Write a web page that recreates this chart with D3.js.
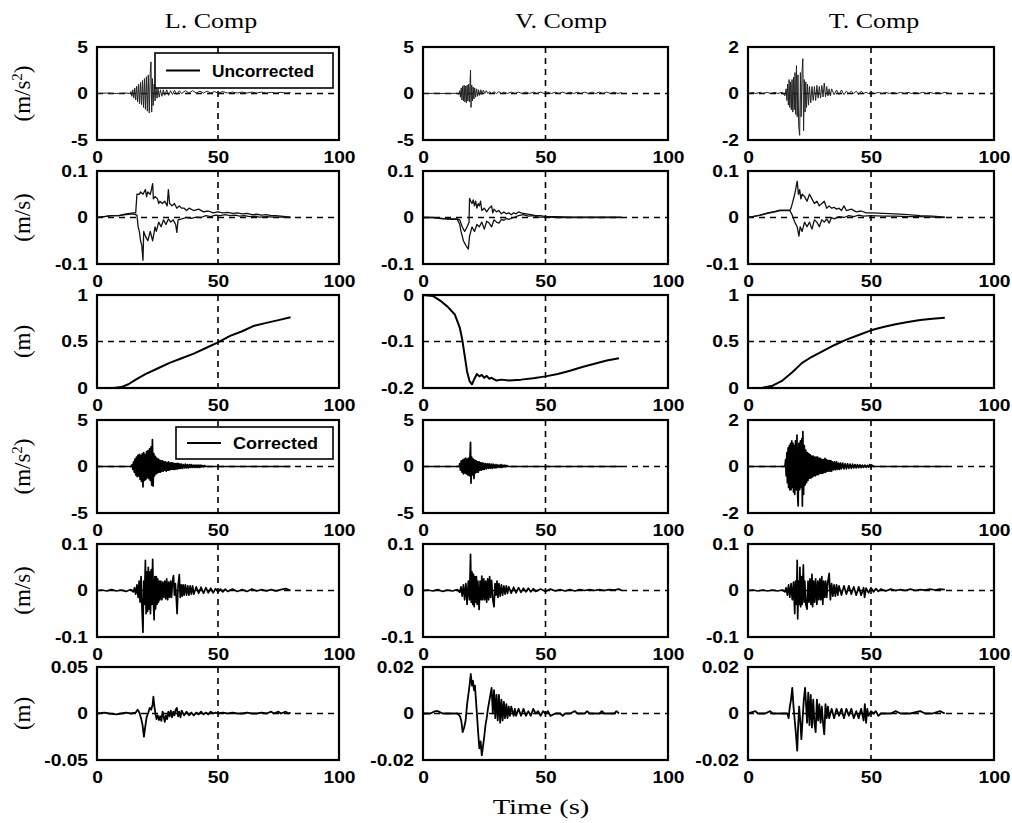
<!DOCTYPE html>
<html><head><meta charset="utf-8">
<script src="https://cdn.jsdelivr.net/npm/d3@7"></script>
<style>body{margin:0;background:#fff}svg{display:block}</style>
</head><body>
<script>
// ---------------- DATA ----------------
const componentTitles = ["L. Comp", "V. Comp", "T. Comp"];
const rowUnits = ["m/s2", "m/s", "m", "m/s2", "m/s", "m"];
const xTickValues = [0, 50, 100];
const xTickLabels = ["0", "50", "100"];
const xAxisLabel = "Time (s)";
const legendLabels = ["Uncorrected", "Corrected"];

// y domains [min,max] per row / column
const yDomains = [
  [[-5, 5], [-5, 5], [-2, 2]],
  [[-0.1, 0.1], [-0.1, 0.1], [-0.1, 0.1]],
  [[0, 1], [-0.2, 0], [0, 1]],
  [[-5, 5], [-5, 5], [-2, 2]],
  [[-0.1, 0.1], [-0.1, 0.1], [-0.1, 0.1]],
  [[-0.05, 0.05], [-0.02, 0.02], [-0.02, 0.02]]
];
// y tick labels (top, middle, bottom)
const yTickLabels = [
  [["5", "0", "-5"], ["5", "0", "-5"], ["2", "0", "-2"]],
  [["0.1", "0", "-0.1"], ["0.1", "0", "-0.1"], ["0.1", "0", "-0.1"]],
  [["1", "0.5", "0"], ["0", "-0.1", "-0.2"], ["1", "0.5", "0"]],
  [["5", "0", "-5"], ["5", "0", "-5"], ["2", "0", "-2"]],
  [["0.1", "0", "-0.1"], ["0.1", "0", "-0.1"], ["0.1", "0", "-0.1"]],
  [["0.05", "0", "-0.05"], ["0.02", "0", "-0.02"], ["0.02", "0", "-0.02"]]
];

// ---- Uncorrected acceleration ----
const accL_unc = [[0,0],[4,0.05],[8,0],[12,0.05],[13.5,0],[14,0.2],[14.4,-0.3],[14.8,0.4],[15.2,-0.5],[15.6,0.6],[16,-0.7],[16.4,0.8],[16.8,-0.9],[17.2,1.0],[17.6,-1.1],[18,1.2],[18.4,-1.2],[18.8,1.4],[19.2,-1.5],[19.6,1.6],[20,-1.7],[20.4,1.8],[20.8,-1.9],[21.2,2.0],[21.6,-2.1],[22,2.2],[22.3,3.4],[22.6,-2.0],[22.9,1.6],[23.2,-1.3],[23.6,1.0],[24,-0.8],[24.4,0.7],[24.8,-0.5],[25.2,0.5],[25.7,-0.4],[26.2,0.4],[26.8,-0.3],[27.4,0.4],[28,-0.2],[28.8,0.4],[29.6,-0.2],[30.4,0.3],[31.2,-0.1],[32,0.35],[33,-0.1],[34,0.3],[35,0],[36.5,0.3],[38,0.05],[39.5,0.3],[41,0.05],[42.5,0.25],[44,0.05],[45.5,0.25],[47,0.05],[48.5,0.2],[50,0.05],[52,0.2],[54,0.05],[56,0.15],[58,0.05],[60,0.15],[62,0.05],[64,0.15],[66,0.05],[68,0.15],[70,0.05],[72,0.12],[74,0.05],[76,0.12],[78,0.05],[80,0.1]];
const accV_unc = [[0,0],[5,0.02],[10,0],[14,0.02],[14.5,-0.1],[15,0.3],[15.3,-0.4],[15.6,0.6],[15.9,-0.7],[16.2,0.8],[16.5,-0.8],[16.8,0.9],[17.1,-0.9],[17.4,0.8],[17.7,-1.0],[18,0.9],[18.3,-0.8],[18.6,1.0],[18.9,-0.9],[19.2,1.2],[19.4,2.5],[19.6,-1.5],[19.9,0.9],[20.2,-0.8],[20.5,0.7],[20.8,-0.6],[21.1,0.6],[21.5,-0.4],[21.9,0.5],[22.3,-0.3],[22.7,0.4],[23.1,-0.2],[23.6,0.4],[24.1,-0.1],[24.6,0.35],[25.2,0],[25.8,0.3],[26.5,0],[27.2,0.2],[28,0],[29,0.2],[30,0],[31,0.2],[32,0],[33,0.15],[34.5,0],[36,0.15],[37.5,0],[39,0.15],[40.5,0],[42,0.15],[43.5,0],[45,0.15],[46.5,0],[48,0.15],[49.5,0],[51,0.15],[52.5,0],[54,0.15],[55.5,0],[57,0.15],[58.5,0],[60,0.15],[61.5,0],[63,0.15],[64.5,0],[66,0.15],[67.5,0],[69,0.15],[70.5,0],[72,0.15],[73.5,0],[75,0.15],[76.5,0],[78,0.15],[79.5,0],[81,0.1]];
const accT_unc = [[0,0],[2,0.05],[3,0],[5,0.05],[6,0],[8,0.05],[9,0],[11,0.05],[12,0],[14,0.05],[15,-0.1],[15.5,0.2],[15.8,-0.3],[16.1,0.4],[16.4,-0.5],[16.7,0.6],[17,-0.6],[17.3,0.5],[17.6,-0.7],[17.9,0.6],[18.2,-0.8],[18.5,0.7],[18.8,-0.7],[19.1,0.9],[19.4,-0.9],[19.7,1.2],[20,-1.0],[20.3,0.8],[20.6,-1.4],[21,-1.8],[21.3,0.9],[21.6,-1.0],[22,1.0],[22.3,1.5],[22.6,-1.6],[22.9,0.6],[23.2,-0.8],[23.5,0.5],[23.8,-0.6],[24.2,0.4],[24.6,-0.5],[25,0.3],[25.5,-0.4],[26,0.3],[26.5,-0.3],[27,0.3],[27.5,-0.3],[28,0.35],[28.5,-0.2],[29,0.3],[29.5,-0.2],[30,0.35],[30.5,-0.15],[31,0.45],[31.5,-0.15],[32,0.3],[32.5,-0.1],[33,0.2],[33.5,-0.1],[34,0.2],[35,-0.05],[36,0.15],[37,-0.05],[38,0.15],[39,-0.05],[40,0.1],[41,0],[42,0.1],[43,0],[44,0.1],[45,-0.05],[46,0.1],[47,0],[48,0.05],[49,0],[50,0.05],[51.5,0],[53,0.05],[54.5,0],[56,0.05],[57.5,0],[59,0.05],[60.5,0],[62,0.05],[63.5,0],[65,0.05],[66.5,0],[68,0.05],[69.5,0],[71,0.05],[72.5,0],[74,0.05],[75.5,0],[77,0.05],[78.5,0],[80,0.05],[82,0]];

// ---- Uncorrected velocity (upper / lower traces) ----
const velL_uncA = [[0,0],[3,0.002],[6,0.004],[9,0.004],[12,0.008],[15,0.01],[16,0.01],[16.5,0.05],[17.5,0.05],[18,0.055],[19,0.05],[20,0.06],[20.5,0.045],[21,0.055],[22,0.05],[22.5,0.06],[23,0.073],[23.3,0.04],[24,0.045],[25,0.04],[25.5,0.03],[26,0.035],[27,0.03],[28,0.035],[29,0.025],[29.5,0.06],[30,0.03],[31,0.025],[32,0.03],[33,0.02],[34,0.025],[35,0.02],[36,0.02],[37,0.015],[38,0.02],[40,0.015],[42,0.018],[44,0.012],[46,0.014],[48,0.01],[50,0.012],[52,0.01],[54,0.011],[56,0.009],[58,0.01],[60,0.008],[62,0.009],[64,0.006],[66,0.007],[68,0.005],[70,0.006],[72,0.004],[74,0.004],[76,0.003],[78,0.002],[80,0.001]];
const velL_uncB = [[0,0],[3,0.002],[6,0.004],[9,0.004],[12,0.006],[15,0.008],[16.5,0.005],[17,-0.02],[17.5,-0.03],[18,-0.05],[18.5,-0.06],[19,-0.092],[19.3,-0.03],[20,-0.04],[21,-0.05],[22,-0.03],[23,-0.05],[24,-0.02],[24.5,-0.03],[25.5,-0.01],[26.5,-0.02],[27.5,-0.005],[28.5,-0.015],[29.5,-0.003],[30.5,-0.01],[31.5,-0.005],[32.5,-0.015],[33,-0.032],[33.5,-0.005],[35,-0.003],[37,0.0],[39,-0.002],[41,0.001],[43,0.0],[45,0.004],[47,0.002],[49,0.005],[51,0.004],[53,0.006],[55,0.004],[57,0.005],[59,0.003],[61,0.004],[63,0.002],[65,0.003],[67,0.001],[70,0.002],[73,0.001],[76,0.001],[80,0]];
const velV_uncA = [[0,0],[4,0],[8,-0.002],[12,-0.003],[14,-0.003],[15,-0.005],[16,-0.02],[17,-0.03],[18,-0.02],[18.8,-0.01],[19,0.041],[19.5,0.035],[20,0.03],[20.5,0.038],[21,0.025],[21.5,0.035],[22,0.02],[22.5,0.03],[23,0.025],[23.5,0.035],[24,0.015],[25,0.02],[26,0.012],[27,0.02],[28,0.025],[28.5,0.01],[29,0.018],[30,0.012],[31,0.015],[32,0.008],[33,0.012],[34,0.008],[35,0.01],[36,0.006],[37,0.01],[38,0.008],[39,0.012],[40,0.01],[42,0.008],[44,0.006],[46,0.004],[48,0.004],[50,0.002],[55,0.002],[60,0.001],[65,0.001],[70,0.001],[75,0.001],[81,0.001]];
const velV_uncB = [[0,0],[4,0],[8,-0.003],[12,-0.004],[14,-0.004],[15,-0.015],[15.5,-0.03],[16.5,-0.05],[17.5,-0.06],[18.5,-0.068],[19,-0.04],[20,-0.02],[21,-0.03],[22,-0.015],[23,-0.02],[24,-0.01],[25,-0.025],[26,-0.008],[27,-0.012],[28,-0.02],[29,-0.005],[30,-0.01],[31,-0.012],[32,-0.004],[33,-0.006],[34,-0.002],[35,-0.004],[37,0],[39,0.004],[41,0.006],[43,0.003],[45,0.004],[47,0.001],[50,0.001],[55,0],[60,0],[65,0],[70,0],[75,0],[81,0]];
const velT_uncA = [[0,0],[2,0.002],[5,0.005],[8,0.01],[11,0.013],[13,0.016],[17,0.016],[17.5,0.02],[18,0.03],[19,0.05],[20,0.078],[20.5,0.05],[21,0.06],[21.5,0.04],[22,0.05],[23,0.045],[24,0.035],[25,0.05],[26,0.04],[27,0.03],[28,0.035],[29,0.025],[30,0.03],[31,0.035],[32,0.02],[33,0.025],[34,0.02],[35,0.022],[36,0.018],[37,0.02],[38,0.015],[39,0.025],[40,0.015],[42,0.018],[44,0.012],[46,0.014],[48,0.01],[50,0.01],[55,0.009],[60,0.008],[65,0.006],[70,0.004],[75,0.003],[80,0.001]];
const velT_uncB = [[0,0],[2,0.002],[5,0.005],[8,0.009],[11,0.012],[13,0.015],[17,0.015],[18,0.005],[19,-0.01],[20,-0.02],[20.7,-0.04],[21.2,-0.02],[22,-0.03],[23,-0.01],[24,-0.02],[25,-0.01],[26,-0.025],[27,-0.005],[28,-0.01],[29,-0.02],[30,-0.005],[31,-0.01],[32,-0.003],[33,-0.012],[34,0],[35,-0.003],[37,0.002],[39,0],[41,0.004],[43,0.002],[45,0.005],[47,0.003],[50,0.004],[55,0.003],[60,0.003],[65,0.002],[70,0.002],[75,0.001],[80,0]];

// ---- Uncorrected displacement ----
const dispL_unc = [[0,0],[7,0],[10,0.01],[13,0.04],[16,0.09],[20,0.15],[25,0.21],[30,0.27],[35,0.32],[40,0.37],[45,0.43],[50,0.49],[55,0.56],[60,0.61],[65,0.67],[70,0.7],[75,0.73],[80,0.76]];
const dispV_unc = [[0,0],[4,-0.002],[7,-0.012],[10,-0.025],[13,-0.042],[15,-0.07],[16,-0.095],[17,-0.13],[18,-0.165],[19,-0.185],[20,-0.192],[21,-0.18],[22,-0.17],[23,-0.175],[24,-0.172],[25,-0.178],[26,-0.174],[27,-0.18],[28,-0.178],[30,-0.184],[32,-0.182],[35,-0.184],[40,-0.182],[45,-0.179],[50,-0.175],[55,-0.17],[60,-0.163],[65,-0.155],[70,-0.148],[75,-0.141],[80,-0.136]];
const dispT_unc = [[0,0],[6,0.002],[10,0.025],[14,0.08],[18,0.17],[22,0.27],[25,0.32],[30,0.39],[35,0.46],[40,0.52],[45,0.57],[50,0.62],[55,0.655],[60,0.685],[65,0.71],[70,0.73],[75,0.745],[80,0.755]];

// ---- Corrected acceleration ----
const accL_cor = [[0,0],[14,0],[14.5,0.2],[14.8,-0.3],[15.1,0.5],[15.4,-0.6],[15.7,0.8],[16,-0.9],[16.3,1.0],[16.6,-1.1],[16.9,1.2],[17.2,-1.0],[17.5,1.3],[17.8,-1.4],[18.1,1.2],[18.4,-1.6],[18.7,1.4],[19,-2.2],[19.3,1.5],[19.6,-1.5],[19.9,1.3],[20.2,-1.4],[20.5,1.6],[20.8,-1.2],[21.1,1.7],[21.4,-1.3],[21.7,1.9],[22,-1.5],[22.3,2.1],[22.6,-2.0],[22.9,2.9],[23.2,-2.1],[23.5,1.4],[23.8,-1.0],[24.1,1.1],[24.4,-0.8],[24.7,0.9],[25,-0.7],[25.3,0.8],[25.6,-0.6],[25.9,0.7],[26.2,-0.6],[26.5,0.6],[26.8,-0.5],[27.1,0.6],[27.4,-0.5],[27.7,0.5],[28,-0.4],[28.3,0.5],[28.6,-0.5],[28.9,0.4],[29.2,-0.4],[29.5,0.5],[29.8,-0.4],[30.1,0.4],[30.4,-0.3],[30.7,0.4],[31,-0.3],[31.3,0.4],[31.6,-0.3],[31.9,0.3],[32.2,-0.3],[32.5,0.3],[32.8,-0.25],[33.1,0.35],[33.4,-0.25],[33.7,0.3],[34,-0.2],[34.3,0.25],[34.6,-0.2],[34.9,0.25],[35.3,-0.2],[35.7,0.2],[36.1,-0.15],[36.5,0.25],[36.9,-0.15],[37.3,0.2],[37.7,-0.15],[38.1,0.2],[38.5,-0.1],[38.9,0.2],[39.3,-0.1],[39.7,0.15],[40.1,-0.1],[40.5,0.15],[40.9,-0.1],[41.3,0.15],[41.7,-0.1],[42.1,0.15],[42.5,-0.1],[42.9,0.15],[43.3,-0.05],[43.7,0.1],[44.1,-0.05],[44.5,0.1],[45,0],[80,0]];
const accV_cor = [[0,0],[14.8,0],[15,0.3],[15.3,-0.4],[15.6,0.6],[15.9,-0.6],[16.2,0.7],[16.5,-0.8],[16.8,0.8],[17.1,-0.7],[17.4,0.9],[17.7,-0.8],[18,0.8],[18.3,-0.9],[18.6,0.9],[18.9,-1.0],[19.2,1.2],[19.4,2.6],[19.6,-1.8],[19.9,1.0],[20.2,-0.9],[20.5,0.8],[20.8,-1.3],[21.1,0.7],[21.4,-0.7],[21.7,0.6],[22,-0.6],[22.3,0.5],[22.6,-0.6],[22.9,0.5],[23.2,-0.4],[23.5,0.4],[23.8,-0.4],[24.1,0.4],[24.4,-0.3],[24.7,0.35],[25,-0.3],[25.4,0.3],[25.8,-0.25],[26.2,0.3],[26.6,-0.2],[27,0.3],[27.4,-0.2],[27.8,0.25],[28.2,-0.2],[28.6,0.25],[29,-0.15],[29.4,0.2],[29.8,-0.15],[30.2,0.2],[30.6,-0.1],[31,0.15],[31.4,-0.1],[31.8,0.2],[32.2,-0.1],[32.6,0.15],[33,-0.05],[33.4,0.15],[33.8,-0.05],[34.2,0.1],[34.8,0],[81,0]];
const accT_cor = [[0,0],[15,0],[15.3,0.3],[15.5,-0.4],[15.8,0.6],[16,-0.7],[16.3,0.8],[16.5,-0.9],[16.8,0.9],[17,-1.0],[17.3,1.0],[17.5,-1.0],[17.8,1.1],[18,-0.9],[18.3,1.0],[18.5,-1.1],[18.8,0.9],[19,-1.2],[19.3,1.1],[19.6,-1.0],[19.9,1.35],[20.2,-1.3],[20.4,-1.7],[20.7,1.0],[21,-1.0],[21.3,1.1],[21.6,-0.9],[21.9,1.2],[22.1,-1.7],[22.3,1.5],[22.6,-1.2],[22.9,0.9],[23.2,-0.8],[23.5,0.7],[23.8,-0.7],[24.1,0.6],[24.4,-0.6],[24.7,0.55],[25,-0.5],[25.3,0.5],[25.6,-0.5],[25.9,0.45],[26.2,-0.45],[26.5,0.45],[26.8,-0.4],[27.1,0.4],[27.4,-0.4],[27.7,0.4],[28,-0.35],[28.3,0.4],[28.6,-0.35],[28.9,0.35],[29.2,-0.3],[29.5,0.35],[29.8,-0.3],[30.1,0.3],[30.4,-0.3],[30.7,0.3],[31,-0.25],[31.3,0.35],[31.6,-0.25],[31.9,0.3],[32.2,-0.2],[32.5,0.25],[32.8,-0.2],[33.1,0.25],[33.4,-0.2],[33.7,0.25],[34,-0.2],[34.4,0.2],[34.8,-0.15],[35.2,0.2],[35.6,-0.15],[36,0.2],[36.4,-0.12],[36.8,0.15],[37.2,-0.12],[37.6,0.15],[38,-0.1],[38.5,0.15],[39,-0.1],[39.5,0.12],[40,-0.1],[40.5,0.12],[41,-0.08],[41.5,0.1],[42,-0.08],[42.5,0.1],[43,-0.06],[43.5,0.08],[44,-0.06],[44.5,0.08],[45,-0.05],[45.5,0.07],[46,-0.05],[46.5,0.06],[47,-0.04],[47.5,0.06],[48,-0.04],[48.5,0.05],[49,-0.03],[49.5,0.08],[50,-0.03],[50.5,0.05],[51,0],[81,0]];

// ---- Corrected velocity ----
const velL_cor = [[0,0],[2,0.001],[4,-0.001],[6,0.002],[8,-0.001],[10,0.001],[12,-0.002],[14,0.002],[15,-0.003],[15.5,0.006],[16,-0.008],[16.5,0.012],[17,-0.015],[17.4,0.02],[17.8,-0.025],[18.2,0.03],[18.6,-0.04],[19,-0.09],[19.3,0.02],[19.6,-0.03],[20,0.065],[20.3,-0.05],[20.6,0.04],[20.9,-0.045],[21.2,0.05],[21.5,-0.04],[21.8,0.04],[22.1,-0.05],[22.4,0.045],[22.7,-0.03],[23,0.067],[23.3,-0.02],[23.6,-0.063],[23.9,0.03],[24.2,-0.04],[24.5,0.03],[24.8,-0.03],[25.1,0.025],[25.4,-0.025],[25.7,0.02],[26,-0.02],[26.4,0.02],[26.8,-0.02],[27.2,0.018],[27.6,-0.015],[28,0.02],[28.4,-0.018],[28.8,0.025],[29.2,-0.02],[29.6,0.018],[30,-0.015],[30.4,0.02],[30.8,-0.015],[31.2,0.02],[31.6,0.032],[32,-0.01],[32.4,0.015],[32.8,-0.02],[33.1,-0.05],[33.5,0.01],[34,0.034],[34.4,-0.015],[34.8,0.012],[35.2,-0.012],[35.6,0.012],[36,-0.01],[36.5,0.012],[37,-0.01],[37.5,0.01],[38,-0.01],[38.5,0.01],[39,-0.008],[39.5,0.01],[40,-0.008],[41,0.008],[42,-0.006],[43,0.007],[44,-0.006],[45,0.006],[46,-0.005],[47,0.005],[48,-0.005],[49,0.004],[50,-0.003],[51,0.003],[52,-0.003],[53,0.003],[54,-0.002],[56,0.003],[58,-0.002],[60,0.002],[62,-0.002],[64,0.003],[66,-0.001],[68,0.002],[70,-0.001],[72,0.002],[74,-0.001],[76,0.002],[78,0.004],[80,0]];
const velV_cor = [[0,0],[2,0.001],[4,-0.001],[6,0.002],[8,-0.002],[10,0.001],[12,-0.001],[14,0.002],[15,-0.004],[15.5,0.008],[16,-0.012],[16.5,0.012],[17,-0.02],[17.5,0.015],[18,-0.03],[18.5,0.02],[19,-0.02],[19.4,0.078],[19.7,-0.025],[20,0.04],[20.3,-0.03],[20.6,0.035],[20.9,-0.035],[21.2,0.03],[21.5,-0.025],[21.8,0.03],[22.1,-0.03],[22.4,0.02],[22.9,-0.041],[23.3,0.02],[23.7,-0.02],[24,0.031],[24.4,-0.02],[24.8,0.025],[25.2,-0.02],[25.6,0.02],[26,-0.025],[26.4,0.025],[26.8,-0.02],[27.2,0.03],[27.6,-0.015],[28,0.022],[28.5,-0.02],[29,-0.035],[29.4,0.015],[29.8,-0.01],[30.2,0.02],[30.6,-0.015],[31,0.015],[31.5,-0.012],[32,0.012],[32.5,-0.01],[33,0.01],[33.5,-0.008],[34,0.01],[34.5,-0.006],[35,0.008],[36,-0.006],[37,0.007],[38,-0.005],[39,0.006],[40,-0.004],[41,0.005],[42,-0.003],[43,0.005],[44,-0.003],[45,0.004],[46,-0.002],[48,0.003],[50,-0.002],[52,0.003],[54,-0.001],[56,0.002],[58,-0.001],[60,0.002],[62,-0.001],[64,0.002],[66,0],[68,0.002],[70,0],[72,0.002],[74,0],[76,0.002],[78,0.001],[80,0.003],[81,0]];
const velT_cor = [[0,0],[2,0.001],[4,-0.001],[6,0.001],[8,-0.001],[10,0.001],[12,-0.001],[14,0.001],[15,-0.003],[15.5,0.006],[16,-0.01],[16.5,0.012],[17,-0.015],[17.5,0.015],[18,-0.02],[18.5,0.018],[19,-0.05],[19.3,0.02],[19.7,-0.03],[20,0.065],[20.2,-0.061],[20.5,0.02],[20.8,-0.03],[21.1,0.05],[21.4,-0.035],[21.7,0.03],[22,-0.03],[22.5,0.055],[22.8,-0.025],[23.1,0.02],[23.5,-0.03],[24,-0.04],[24.4,0.02],[24.8,-0.025],[25.2,0.025],[25.6,-0.03],[26,0.035],[26.3,-0.035],[26.7,0.02],[27.1,-0.025],[27.5,0.025],[28,-0.03],[28.4,0.02],[28.8,-0.02],[29.2,0.025],[29.6,-0.02],[30,0.03],[30.4,-0.03],[30.8,0.02],[31.2,-0.015],[31.6,0.02],[32,-0.015],[32.5,0.02],[33,0.037],[33.5,-0.02],[34,0.015],[34.5,-0.012],[35,0.012],[35.5,-0.012],[36,0.012],[36.5,-0.01],[37,0.01],[38,-0.01],[39,0.01],[40,-0.008],[41,0.01],[42,-0.008],[43,0.008],[44,-0.01],[45,0.008],[46,-0.01],[47,0.006],[47.4,-0.015],[48,0.005],[49,-0.005],[50,0.006],[51,-0.003],[52,0.004],[53,-0.002],[54,0.003],[56,-0.001],[58,0.003],[60,0],[62,0.002],[64,0],[66,0.003],[68,0],[70,0.002],[72,0.001],[74,0.003],[76,0.001],[78,0.003],[80,0.002]];

// ---- Corrected displacement ----
const dispL_cor = [[0,0],[3,0.001],[5,0],[8,-0.001],[10,0],[12,0.001],[14,0],[16,0.001],[16.8,0.004],[17.5,0.001],[18.2,-0.005],[18.8,-0.012],[19.4,-0.025],[19.9,-0.015],[20.5,-0.004],[21.2,0.001],[21.8,0.006],[22.4,0.004],[23,0.01],[23.3,0.018],[23.7,0.008],[24.2,-0.001],[24.6,-0.006],[25.1,-0.002],[25.6,-0.007],[26.1,-0.003],[26.6,-0.008],[27.1,0.002],[27.6,-0.004],[28,-0.009],[28.5,-0.002],[29,-0.006],[29.5,0.002],[30,-0.003],[30.5,0.003],[31,-0.004],[31.5,0.002],[32,-0.002],[32.5,0.004],[33,0.006],[33.5,-0.003],[34,0.002],[34.5,-0.004],[35,0.003],[36,-0.002],[37,0.002],[38,-0.002],[39,0.001],[40,-0.002],[41,0.001],[42,-0.001],[43,0.002],[44,-0.001],[45,0.001],[46,-0.001],[47,0.002],[48,0],[49,0.001],[50,0],[52,0.001],[54,0],[56,0.001],[58,0],[60,0],[62,0.001],[64,0],[66,0],[68,0.001],[70,0],[72,0.002],[73,0],[75,0.002],[76,0],[78,0.002],[79,0],[80,0.001]];
const dispV_cor = [[0,0],[3,0],[5,0.001],[6,0.001],[8,0],[12,0],[14,0],[15,-0.001],[15.6,-0.003],[16.2,-0.008],[16.8,-0.006],[17.4,-0.003],[18,0.004],[18.5,0.008],[19,0.012],[19.5,0.017],[20,0.012],[20.4,0.014],[20.8,0.01],[21.2,0.012],[21.6,0.006],[22,0.0],[22.5,-0.008],[23,-0.015],[23.5,-0.012],[24,-0.018],[24.5,-0.014],[25,-0.01],[25.5,-0.005],[26,-0.002],[26.5,0.002],[27,0.005],[27.5,0.008],[28,0.011],[28.5,0.0],[29,0.01],[29.5,-0.002],[30,0.008],[30.5,-0.003],[31,0.008],[31.5,-0.004],[32,0.006],[32.5,-0.003],[33,0.005],[33.5,-0.002],[34,0.004],[34.5,-0.002],[35,0.003],[35.5,-0.001],[36,0.003],[37,-0.001],[37.5,0.002],[38,-0.001],[39,0.002],[40,-0.001],[41,0.002],[42,-0.001],[43,0.001],[44,-0.001],[45,0.002],[46,0],[47,0.001],[48,-0.001],[49,0.001],[50,0],[51,0.001],[52,-0.001],[54,0],[56,0],[57,-0.001],[58,0],[60,0],[62,0.001],[63,0],[66,0],[67,0.001],[68,0],[72,0],[73,0.001],[74,0],[78,0],[79,0.001],[80,0]];
const dispT_cor = [[0,0],[3,0.001],[4,0],[7,0],[9,0.001],[10,0],[12,0],[14,0],[16,0],[16.5,-0.002],[17,0.003],[17.5,0.006],[18,0.011],[18.5,0.003],[19,-0.003],[19.5,-0.009],[20,-0.016],[20.4,-0.005],[20.8,0.003],[21.3,-0.004],[21.7,-0.011],[22.2,-0.002],[22.7,0.006],[23.2,0.011],[23.6,0.004],[24,-0.004],[24.5,0.009],[25,-0.005],[25.5,0.008],[26,-0.006],[26.5,0.006],[27,-0.004],[27.5,-0.008],[28,0.006],[28.5,-0.003],[29,0.004],[29.5,-0.004],[30,0.003],[30.5,-0.004],[31,-0.009],[31.5,0.004],[32,-0.002],[32.5,0.003],[33,-0.002],[34,0.002],[35,-0.002],[36,0.002],[37,-0.001],[38,0.002],[39,-0.002],[40,0.002],[41,-0.001],[42,0.002],[43,-0.002],[44,0.001],[45,-0.002],[46,0.002],[47,-0.003],[47.5,0.004],[48,-0.004],[48.5,0.002],[49,-0.001],[50,0.001],[51,0],[52,0.001],[53,-0.001],[54,0],[56,0],[58,0],[60,0.001],[62,0],[66,0],[70,0.001],[72,0],[75,0],[78,0.001],[80,0]];

const panelSeries = [
  [[accL_unc], [accV_unc], [accT_unc]],
  [[velL_uncA, velL_uncB], [velV_uncA, velV_uncB], [velT_uncA, velT_uncB]],
  [[dispL_unc], [dispV_unc], [dispT_unc]],
  [[accL_cor], [accV_cor], [accT_cor]],
  [[velL_cor], [velV_cor], [velT_cor]],
  [[dispL_cor], [dispV_cor], [dispT_cor]]
];

// ---------------- LAYOUT ----------------
const W = 1012, H = 823;
const colX = [[97, 339], [423, 668], [748, 994]];
const rowTop = [47, 171, 295, 420, 544, 667];
const rowH = 93;
const titleX = [211, 561, 874];
const rowStroke = [1.0, 1.3, 2.0, 1.7, 1.7, 1.8];
const rowColor = ["#222", "#111", "#000", "#000", "#000", "#000"];

const svg = d3.select("body").append("svg").attr("width", W).attr("height", H)
  .style("font-family", "'Liberation Sans', Arial, sans-serif");
svg.append("rect").attr("width", W).attr("height", H).attr("fill", "#fff");

function stretch(sel, k) {
  sel.each(function () {
    const w = this.getComputedTextLength();
    d3.select(this).attr("textLength", w * k).attr("lengthAdjust", "spacingAndGlyphs");
  });
}

const defs = svg.append("defs");

rowTop.forEach((top, r) => {
  colX.forEach(([x0, x1], c) => {
    const [ymin, ymax] = yDomains[r][c];
    const x = d3.scaleLinear().domain([0, 100]).range([x0, x1]);
    const y = d3.scaleLinear().domain([ymin, ymax]).range([top + rowH, top]);
    const mid = (ymin + ymax) / 2;
    const g = svg.append("g");
    const clipId = `clip-${r}-${c}`;
    defs.append("clipPath").attr("id", clipId).append("rect")
      .attr("x", x0).attr("y", top).attr("width", x1 - x0).attr("height", rowH);

    // dashed grid
    g.append("line").attr("x1", x0).attr("x2", x1).attr("y1", y(mid)).attr("y2", y(mid))
      .attr("stroke", "#000").attr("stroke-width", 1.6).attr("stroke-dasharray", "6,5");
    g.append("line").attr("x1", x(50)).attr("x2", x(50)).attr("y1", top).attr("y2", top + rowH)
      .attr("stroke", "#000").attr("stroke-width", 1.6).attr("stroke-dasharray", "6,5");

    // traces
    const line = d3.line().x(d => x(d[0])).y(d => y(d[1]));
    panelSeries[r][c].forEach(s => {
      g.append("path").attr("d", line(s)).attr("fill", "none")
        .attr("clip-path", `url(#${clipId})`)
        .attr("stroke", rowColor[r])
        .attr("stroke-width", rowStroke[r])
        .attr("stroke-linejoin", "round");
    });

    // box
    g.append("rect").attr("x", x0).attr("y", top).attr("width", x1 - x0).attr("height", rowH)
      .attr("fill", "none").attr("stroke", "#000").attr("stroke-width", 2.2);

    // axes
    const labs = yTickLabels[r][c];
    const ya = g.append("g").attr("transform", `translate(${x0},0)`)
      .call(d3.axisLeft(y).tickValues([ymax, mid, ymin]).tickFormat((d, i) => labs[i]).tickSize(0).tickPadding(9));
    const xa = g.append("g").attr("transform", `translate(0,${top + rowH})`)
      .call(d3.axisBottom(x).tickValues(xTickValues).tickFormat((d, i) => xTickLabels[i]).tickSize(0).tickPadding(12));
    [ya, xa].forEach(a => {
      a.select(".domain").remove();
      a.selectAll("text").attr("font-size", 16).attr("font-weight", "bold")
        .attr("font-family", "'Liberation Sans', Arial, sans-serif").attr("fill", "#000");
      stretch(a.selectAll("text"), 1.2);
    });
  });
});

// titles
componentTitles.forEach((t, i) => {
  svg.append("text").attr("x", titleX[i]).attr("y", 28).attr("text-anchor", "middle")
    .attr("font-family", "'Liberation Serif', 'Times New Roman', serif").attr("font-size", 20)
    .text(t).call(stretch, 1.3);
});

// y unit labels
rowUnits.forEach((u, r) => {
  const cy = rowTop[r] + rowH / 2;
  const t = svg.append("text").attr("transform", `translate(30,${cy}) rotate(-90)`)
    .attr("text-anchor", "middle")
    .attr("font-family", "'Liberation Serif', 'Times New Roman', serif").attr("font-size", 23);
  if (u.endsWith("2")) {
    t.append("tspan").text("(" + u.slice(0, -1));
    t.append("tspan").attr("dy", -8).attr("font-size", 15).text("2");
    t.append("tspan").attr("dy", 8).text(")");
  } else {
    t.text("(" + u + ")");
  }
});

// x axis label
svg.append("text").attr("x", 541).attr("y", 814).attr("text-anchor", "middle")
  .attr("font-family", "'Liberation Serif', 'Times New Roman', serif").attr("font-size", 22)
  .text(xAxisLabel).call(stretch, 1.3);

// legends
function legend(x0, y0, w, h, label, textW) {
  const g = svg.append("g");
  g.append("rect").attr("x", x0).attr("y", y0).attr("width", w).attr("height", h)
    .attr("fill", "#fff").attr("stroke", "#000").attr("stroke-width", 1.6);
  g.append("line").attr("x1", x0 + 11).attr("x2", x0 + 45).attr("y1", y0 + h / 2).attr("y2", y0 + h / 2)
    .attr("stroke", "#000").attr("stroke-width", 2);
  g.append("text").attr("x", x0 + 57).attr("y", y0 + h / 2 + 6)
    .attr("font-size", 16).attr("font-weight", "bold").attr("textLength", textW)
    .attr("lengthAdjust", "spacingAndGlyphs").text(label);
}
legend(155, 53, 178, 35, legendLabels[0], 102);
legend(176, 427, 157, 32, legendLabels[1], 85);
</script>
</body></html>
